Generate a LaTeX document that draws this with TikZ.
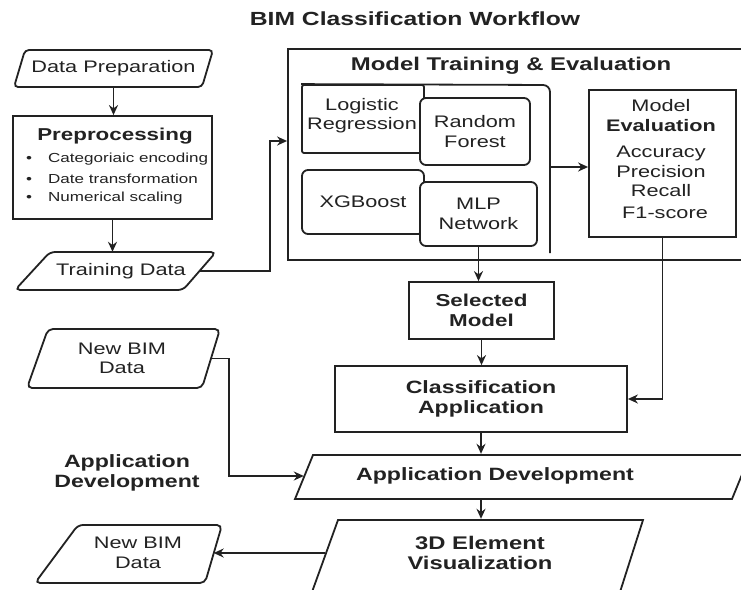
\documentclass[tikz,border=0pt]{standalone}
\usepackage{fontspec}
\setmainfont{Liberation Sans}[FakeStretch=1.3]
\usetikzlibrary{arrows.meta,calc}
\definecolor{inkc}{HTML}{222222}
\tikzset{
 ln/.style={draw=inkc, line width=1.8pt},
 arr/.style={ln, -{Stealth[length=10pt,width=9pt]}},
 box/.style={ln, fill=white, inner sep=0pt},
 rbox/.style={box, rounded corners=6pt},
 ghost/.style={inner sep=0pt},
 reg/.style={font=\fontsize{16.7}{19.5}\selectfont, align=center, text=inkc},
 bld/.style={font=\bfseries\fontsize{17.8}{20}\selectfont, align=center, text=inkc},
 small/.style={font=\fontsize{13.1}{14}\selectfont, text=inkc, inner sep=0pt},
}
\begin{document}
\begin{tikzpicture}[x=1pt,y=-1pt]
\useasboundingbox (0,0) rectangle (741,589);
\clip (0,0) rectangle (741,589);
\fill[white] (0,0) rectangle (741,589);

% title
\node[font=\bfseries\fontsize{19}{20}\selectfont, text=inkc] (title) at (415,19) {BIM Classification Workflow};

% left column
\draw[ln, rounded corners=4pt] (25,50) -- (213,50) -- (202,87) -- (14,87) -- cycle;
\node[ghost, reg, minimum width=188pt, minimum height=37pt] (dprep) at (113.5,68.5) {Data Preparation};

\node[box, minimum width=199pt, minimum height=103pt] (pre) at (112.5,167.5) {};
\node[bld, font=\bfseries\fontsize{17.2}{20}\selectfont] (preT) at (115,136) {Preprocessing};
\node[small, anchor=west] (b1) at (26,159) {\makebox[22pt][l]{•}Categoriaic encoding};
\node[small, anchor=west] (b2) at (26,179) {\makebox[22pt][l]{•}Date transformation};
\node[small, anchor=west] (b3) at (26,198) {\makebox[22pt][l]{•}Numerical scaling};

\draw[ln, rounded corners=5pt] (50,252) -- (216,252) -- (183,290) -- (15,290) -- cycle;
\node[ghost, reg, minimum width=157pt, minimum height=38pt] (td) at (121,271) {Training Data};

\draw[arr] (dprep.south) -- (dprep.south |- pre.north);
\draw[arr] (pre.south) -- (pre.south |- td.north);

% model training container
\node[box, fill=none, minimum width=512pt, minimum height=211pt] (mte) at (544,154.5) {};
\node[font=\bfseries\fontsize{18.4}{20}\selectfont, text=inkc] (mteT) at (511,66) {Model Training \& Evaluation};

\node[box, rounded corners=2pt, minimum width=122pt, minimum height=68pt] (lr) at (363,119) {};
\node[reg] (lrT) at (362,115.5) {Logistic\\Regression};
\coordinate (grpC) at (550,85);
\coordinate (grpB) at (550,253);
\draw[ln, rounded corners=7pt] (lr.north west) -- (grpC) -- (grpB);
\node[rbox, reg, minimum width=110pt, minimum height=67pt] (rf) at (475,131.5) {Random\\Forest};
\node[rbox, reg, minimum width=122pt, minimum height=64pt] (xg) at (363,202) {XGBoost};
\node[rbox, reg, minimum width=117pt, minimum height=64pt] (mlp) at (478.5,214) {MLP\\Network};

\node[box, minimum width=147pt, minimum height=147pt] (meval) at (662.5,163.5) {};
\node[reg] (mevalT) at (661,159) {Model\\\textbf{Evaluation}\\[7pt]Accuracy\\Precision\\Recall\\[2pt]\hspace*{8pt}F1-score};

\coordinate (grpR) at (550,167);
\draw[arr] (grpR) -- (grpR -| meval.west);

\draw[arr] (td.east) -- ++(70,0) |- ([yshift=13.5pt]mte.west);

% center column
\node[box, bld, font=\bfseries\fontsize{17.2}{19.5}\selectfont, minimum width=145pt, minimum height=57pt] (sel) at (481.5,310.5) {Selected\\Model};
\node[box, bld, minimum width=292pt, minimum height=66pt] (cls) at (481,399) {Classification\\Application};

\draw[arr] (mlp.south) -- (mlp.south |- sel.north);
\draw[arr] (sel.south) -- (sel.south |- cls.north);
\draw[arr] (meval.south) |- (cls.east);

\draw[ln] (313,455) -- (750,455) -- (732,499) -- (295,499) -- cycle;
\node[ghost, bld, minimum width=382pt, minimum height=44pt] (app) at (495,476) {Application Development};

\draw[ln] (338,520) -- (643,520) -- (620,592) -- (312,592) -- cycle;
\node[ghost, bld, font=\bfseries\fontsize{18.3}{20}\selectfont, minimum width=310pt, minimum height=68pt] (vis) at (480,553) {3D Element\\Visualization};

\draw[arr] (cls.south) -- (cls.south |- app.north);
\draw[arr] (cls.south |- app.south) -- (cls.south |- vis.north);

% new BIM data
\draw[ln, rounded corners=5pt] (48,329) -- (220,329) -- (202,388) -- (27,388) -- cycle;
\node[ghost, reg, minimum width=178pt, minimum height=59pt] (nb1) at (122,358.5) {New BIM\\Data};

\draw[ln, rounded corners=5pt] (78,525) -- (222,525) -- (205,583) -- (35,583) -- cycle;
\node[ghost, reg, minimum width=151pt, minimum height=58pt] (nb2) at (138,553) {New BIM\\Data};

\node[bld] (adlbl) at (127,473) {Application\\Development};

\draw[arr] (nb1.east) -- ++(18,0) |- (app.west);
\draw[arr] (vis.west) -- (vis.west -| nb2.east);
\end{tikzpicture}
\end{document}
